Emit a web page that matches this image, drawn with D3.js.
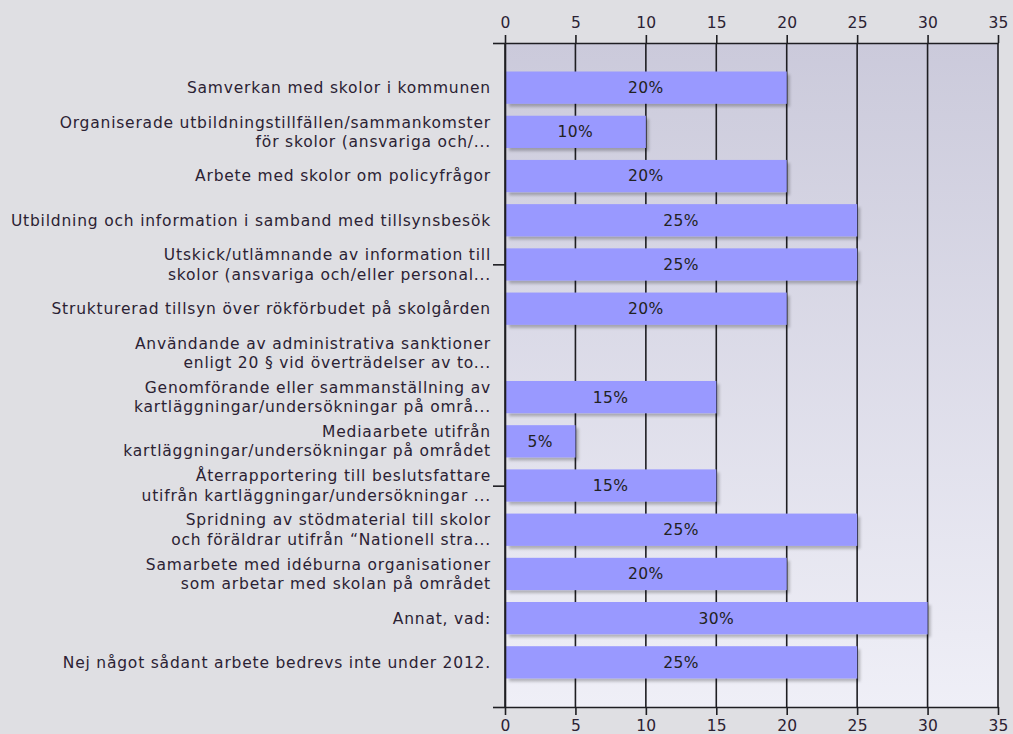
<!DOCTYPE html>
<html>
<head>
<meta charset="utf-8">
<script src="https://cdn.jsdelivr.net/npm/d3@7"></script>
<style>
  html, body { margin: 0; padding: 0; background: #dfdfe3; }
  svg { display: block; }
  .lbl { font-family: "DejaVu Sans", Verdana, sans-serif; font-size: 15.5px; letter-spacing: 0.8px; fill: #2b2233; }
  .val { font-family: "DejaVu Sans", Verdana, sans-serif; font-size: 15.5px; letter-spacing: 0.4px; fill: #222; }
  .tick text { font-family: "DejaVu Sans", Verdana, sans-serif; font-size: 15.5px; letter-spacing: 0.2px; fill: #2b2233; }
</style>
</head>
<body>
<div id="chart"></div>
<script>
'use strict';

// Category labels (each entry = lines of the label, as shown)
var categories = [
    ['Samverkan med skolor i kommunen'],
    ['Organiserade utbildningstillfällen/sammankomster', 'för skolor (ansvariga och/...'],
    ['Arbete med skolor om policyfrågor'],
    ['Utbildning och information i samband med tillsynsbesök'],
    ['Utskick/utlämnande av information till', 'skolor (ansvariga och/eller personal...'],
    ['Strukturerad tillsyn över rökförbudet på skolgården'],
    ['Användande av administrativa sanktioner', 'enligt 20 § vid överträdelser av to...'],
    ['Genomförande eller sammanställning av', 'kartläggningar/undersökningar på områ...'],
    ['Mediaarbete utifrån', 'kartläggningar/undersökningar på området'],
    ['Återrapportering till beslutsfattare', 'utifrån kartläggningar/undersökningar ...'],
    ['Spridning av stödmaterial till skolor', 'och föräldrar utifrån \u201CNationell stra...'],
    ['Samarbete med idéburna organisationer', 'som arbetar med skolan på området'],
    ['Annat, vad:'],
    ['Nej något sådant arbete bedrevs inte under 2012.']
];
var values = [20, 10, 20, 25, 25, 20, 0, 15, 5, 15, 25, 20, 30, 25];
var xTicks = [0, 5, 10, 15, 20, 25, 30, 35];

(function() {
    var width = 1013, height = 734;
    var plotLeft = 505, plotRight = 998, plotTop = 43, plotBottom = 707;
    var ink = '#1e1e22';

    var svg = d3.select('#chart').append('svg')
        .attr('width', width)
        .attr('height', height);

    var defs = svg.append('defs');
    var grad = defs.append('linearGradient').attr('id', 'plotBg')
        .attr('x1', 0).attr('y1', 0).attr('x2', 0).attr('y2', 1);
    grad.append('stop').attr('offset', '0%').attr('stop-color', '#cbcadb');
    grad.append('stop').attr('offset', '100%').attr('stop-color', '#efeff7');

    var shadow = defs.append('filter').attr('id', 'barShadow')
        .attr('x', '-5%').attr('y', '-20%').attr('width', '115%').attr('height', '150%');
    shadow.append('feGaussianBlur').attr('in', 'SourceAlpha').attr('stdDeviation', 1.6).attr('result', 'blur');
    shadow.append('feOffset').attr('in', 'blur').attr('dx', 3).attr('dy', 3).attr('result', 'off');
    shadow.append('feComponentTransfer').attr('in', 'off').attr('result', 'soft')
        .append('feFuncA').attr('type', 'linear').attr('slope', 0.25);
    var merge = shadow.append('feMerge');
    merge.append('feMergeNode').attr('in', 'soft');
    merge.append('feMergeNode').attr('in', 'SourceGraphic');

    var x = d3.scaleLinear().domain([0, 35]).range([plotLeft, plotRight]);
    var y = d3.scaleBand()
        .domain(d3.range(categories.length))
        .range([plotTop, plotBottom])
        .paddingInner(0.27)
        .paddingOuter(0.645);

    //Plot background
    svg.append('rect')
        .attr('x', plotLeft).attr('y', plotTop)
        .attr('width', plotRight - plotLeft).attr('height', plotBottom - plotTop)
        .attr('fill', 'url(#plotBg)');

    //Vertical grid lines
    svg.append('g').selectAll('line')
        .data(xTicks)
        .enter().append('line')
        .attr('x1', function(d) { return x(d); })
        .attr('x2', function(d) { return x(d); })
        .attr('y1', plotTop)
        .attr('y2', plotBottom)
        .attr('stroke', ink)
        .attr('stroke-width', 1.6);

    //Bars + value labels
    var rows = values.map(function(v, i) { return { i: i, v: v }; })
        .filter(function(d) { return d.v > 0; });
    var barG = svg.append('g');
    barG.selectAll('rect')
        .data(rows)
        .enter().append('rect')
        .attr('x', x(0) + 1)
        .attr('y', function(d) { return y(d.i); })
        .attr('width', function(d) { return x(d.v) - x(0) - 1; })
        .attr('height', y.bandwidth())
        .attr('fill', '#9999ff')
        .attr('filter', 'url(#barShadow)');
    barG.selectAll('text')
        .data(rows)
        .enter().append('text')
        .attr('class', 'val')
        .attr('x', function(d) { return (x(0) + x(d.v)) / 2; })
        .attr('y', function(d) { return y(d.i) + y.bandwidth() / 2; })
        .attr('dy', '0.35em')
        .attr('text-anchor', 'middle')
        .text(function(d) { return d.v + '%'; });

    //Axes
    var topAxis = svg.append('g')
        .attr('transform', 'translate(0,' + plotTop + ')')
        .call(d3.axisTop(x).tickValues(xTicks).tickSize(8).tickPadding(7).tickSizeOuter(0));
    var bottomAxis = svg.append('g')
        .attr('transform', 'translate(0,' + plotBottom + ')')
        .call(d3.axisBottom(x).tickValues(xTicks).tickSize(8).tickPadding(5).tickSizeOuter(0));
    [topAxis, bottomAxis].forEach(function(a) {
        a.attr('font-size', null).attr('font-family', null);
        a.select('.domain').attr('stroke', ink).attr('stroke-width', 1.6);
        a.selectAll('.tick line').attr('stroke', ink).attr('stroke-width', 1.6);
    });

    //Left axis with its few ticks
    var yLin = d3.scaleLinear().domain([0, 3]).range([plotTop, plotBottom]);
    var leftAxis = svg.append('g')
        .attr('transform', 'translate(' + plotLeft + ',0)')
        .call(d3.axisLeft(yLin).ticks(3).tickSize(12).tickFormat('').tickSizeOuter(0));
    leftAxis.select('.domain').attr('stroke', ink).attr('stroke-width', 1.6);
    leftAxis.selectAll('.tick line').attr('stroke', ink).attr('stroke-width', 1.6);

    //Category labels
    var lineH = 19.5;
    var catG = svg.append('g');
    categories.forEach(function(lines, i) {
        var cy = y(i) + y.bandwidth() / 2;
        var t = catG.append('text')
            .attr('class', 'lbl')
            .attr('text-anchor', 'end');
        lines.forEach(function(s, j) {
            t.append('tspan')
                .attr('x', 491)
                .attr('y', cy + (j - (lines.length - 1) / 2) * lineH)
                .attr('dy', '0.35em')
                .text(s);
        });
    });
})();
</script>
</body>
</html>
